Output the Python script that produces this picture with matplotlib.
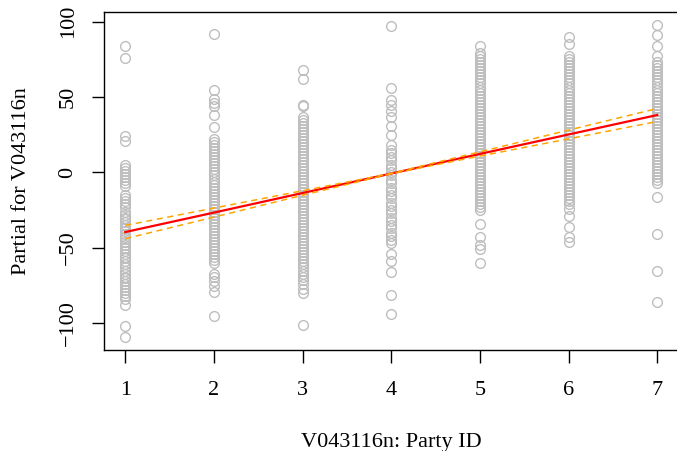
import numpy as np
import matplotlib
matplotlib.use("Agg")
import matplotlib.pyplot as plt

plt.rcParams['font.family'] = ['Liberation Serif', 'DejaVu Serif']

# Party ID categories and partial residuals for each category
party_id = [1, 2, 3, 4, 5, 6, 7]

resid_1 = [84, 76, 24, 21, 5, 3, 1, -1, -3, -5, -7, -9, -15, -17, -19, -21, -23,
           -26, -28, -30, -31, -33, -35, -37, -39, -41, -43, -44, -46, -48, -50,
           -52, -54, -56, -57, -59, -61, -63, -65, -67, -69, -70, -72, -74, -76,
           -78, -80, -82, -84, -88, -102, -109]
resid_2 = [92, 55, 49, 46, 44, 38, 30, 22, 20, 18, 16, 14, 12, 10, 8, 6, 4, 2, 0,
           -2, -4, -6, -8, -10, -12, -14, -16, -18, -20, -22, -24, -26, -28, -30,
           -32, -34, -36, -38, -40, -42, -44, -46, -48, -50, -52, -54, -56, -58,
           -60, -67, -69, -72, -75, -79, -95]
resid_3 = [68, 62, 45, 44, 37, 35, 33, 31, 29, 27, 25, 23, 21, 19, 17, 15, 13, 11,
           9, 7, 5, 3, 1, -1, -3, -5, -7, -9, -11, -13, -15, -17, -19, -21, -23,
           -25, -27, -29, -31, -33, -35, -37, -39, -41, -43, -45, -47, -49, -51,
           -53, -55, -57, -59, -61, -63, -65, -67, -69, -71, -74, -77, -80, -101]
resid_4 = [97, 56, 48, 45, 41, 37, 31, 25, 18, 15, 13, 10, 8, 5, 3, 0, -2, -5,
           -7, -10, -12, -15, -17, -20, -22, -25, -27, -30, -32, -35, -37, -40,
           -42, -45, -47, -54, -59, -66, -81, -94]
resid_5 = [84, 79, 77, 75, 73, 71, 69, 67, 65, 63, 61, 59, 57, 55, 53, 51, 49, 47,
           45, 43, 41, 39, 37, 35, 33, 31, 29, 27, 25, 23, 21, 19, 17, 15, 13, 11,
           9, 7, 5, 3, 1, -1, -3, -5, -7, -9, -11, -13, -15, -17, -19, -21, -23,
           -25, -34, -43, -48, -51, -60]
resid_6 = [90, 85, 77, 75, 73, 71, 69, 67, 65, 63, 61, 59, 57, 55, 53, 51, 49, 47,
           45, 43, 41, 39, 37, 35, 33, 31, 29, 27, 25, 23, 21, 19, 17, 15, 13, 11,
           9, 7, 5, 3, 1, -1, -3, -5, -7, -9, -11, -13, -15, -17, -19, -21, -24,
           -29, -36, -43, -46]
resid_7 = [98, 91, 84, 77, 73, 71, 69, 67, 65, 63, 61, 59, 57, 55, 53, 51, 49, 47,
           45, 43, 41, 39, 37, 35, 33, 31, 29, 27, 25, 23, 21, 19, 17, 15, 13, 11,
           9, 7, 5, 3, 1, -1, -3, -5, -7, -16, -41, -65, -86]

residuals = [resid_1, resid_2, resid_3, resid_4, resid_5, resid_6, resid_7]

# Fitted linear term and its pointwise 2*SE band
fit_term = [-39.5, -26.6, -13.6, -0.7, 12.3, 25.2, 38.1]
band_half = [4.4, 3.0, 1.5, 0.1, 1.4, 2.9, 4.3]

fig = plt.figure(figsize=(6.77, 4.51), dpi=100)
ax = fig.add_axes([104 / 677, (451 - 350) / 451, 574.5 / 677, 338 / 451])

for x, vals in zip(party_id, residuals):
    ax.plot([x] * len(vals), vals, linestyle='none', marker='o',
            markersize=7.0, markerfacecolor='none', markeredgecolor='#BEBEBE',
            markeredgewidth=1.0, clip_on=False)

fit = np.array(fit_term)
half = np.array(band_half)
ax.plot(party_id, fit, color='red', linewidth=1.6)
ax.plot(party_id, fit + half, color='orange', linewidth=1.1, linestyle=(0, (4, 3)))
ax.plot(party_id, fit - half, color='orange', linewidth=1.1, linestyle=(0, (4, 3)))

ax.set_xlim(0.76, 7.24)
ax.set_ylim(-117.7, 106.4)
ax.set_xticks(party_id)
ax.set_yticks([-100, -50, 0, 50, 100])
ax.set_yticklabels(['\u2212100', '\u221250', '0', '50', '100'], rotation=90, va='center')
ax.tick_params(axis='both', direction='out', length=9, width=1.0, labelsize=16,
               color='black')
ax.tick_params(axis='x', pad=13)
ax.tick_params(axis='y', pad=10)
for s in ax.spines.values():
    s.set_linewidth(1.0)

ax.set_xlabel('V043116n: Party ID', fontsize=16, labelpad=24)
ax.set_ylabel('Partial for V043116n', fontsize=16, labelpad=20)

fig.savefig('out.png', dpi=100)
